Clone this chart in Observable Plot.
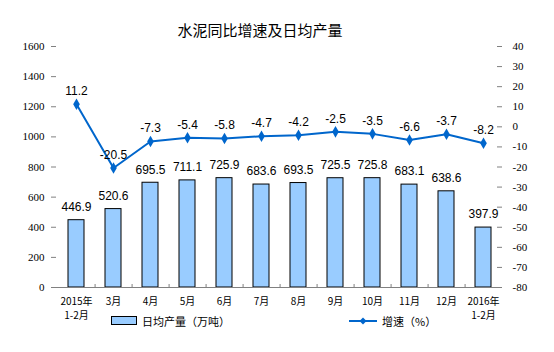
<!DOCTYPE html>
<html><head><meta charset="utf-8">
<script src="https://cdn.jsdelivr.net/npm/d3@7"></script>
<script src="https://cdn.jsdelivr.net/npm/@observablehq/plot@0.6"></script>
<style>
body{margin:0;background:#fff;}
#wrap{position:relative;width:554px;height:352px;overflow:hidden;}
#title{position:absolute;left:0;width:520px;top:20px;text-align:center;font-family:"Noto Sans CJK SC";font-size:15px;color:#000;line-height:20px;}
.leg{position:absolute;top:312px;height:18px;display:flex;align-items:center;font-family:"Noto Sans CJK SC";font-size:11px;color:#000;}
.leg svg{margin-right:4px;}
</style></head><body>
<div id="wrap"></div>
<script>
const categories = ["2015年\n1-2月","3月","4月","5月","6月","7月","8月","9月","10月","11月","12月","2016年\n1-2月"];
const output = [446.9, 520.6, 695.5, 711.1, 725.9, 683.6, 693.5, 725.5, 725.8, 683.1, 638.6, 397.9];
const growth = [11.2, -20.5, -7.3, -5.4, -5.8, -4.7, -4.2, -2.5, -3.5, -6.6, -3.7, -8.2];
const leftTicks = [0, 200, 400, 600, 800, 1000, 1200, 1400, 1600];
const rightTicks = [-80, -70, -60, -50, -40, -30, -20, -10, 0, 10, 20, 30, 40];
const title = "水泥同比增速及日均产量";
const barName = "日均产量（万吨）";
const lineName = "增速（%）";

const barColor = "#99CCFF", lineColor = "#0066CC", axisColor = "#808080";
const data = categories.map((c, i) => ({c, v: output[i], g: growth[i]}));
const rMin = -80, rMax = 40, lMax = 1600;
const toLeft = g => (g - rMin) / (rMax - rMin) * lMax;
const fromLeft = v => String(Math.round(v / lMax * (rMax - rMin) + rMin));

const W = 554, H = 352, mt = 46, mb = 65, ml = 56, mr = 52;
const pw = W - ml - mr, ph = H - mt - mb, step = pw / categories.length;

const chart = Plot.plot({
  width: W, height: H, marginTop: mt, marginBottom: mb, marginLeft: ml, marginRight: mr,
  style: {background: "transparent", color: "#000"},
  x: {domain: categories, paddingInner: 0.58, paddingOuter: 0.29, align: 0.5, label: null},
  y: {domain: [0, lMax], label: null},
  marks: [
    Plot.barY(data, {x: "c", y: "v", fill: barColor, stroke: "#000", strokeWidth: 1}),
    Plot.ruleY([0], {stroke: axisColor}),
    Plot.axisY(leftTicks, {anchor: "left", tickSize: 5, tickPadding: 7, tickFormat: d => String(d), stroke: axisColor, fill: "#000", fontFamily: "Liberation Serif", fontSize: 11, line: true, label: null}),
    Plot.axisY(rightTicks.map(toLeft), {anchor: "right", tickSize: 0, tickPadding: 10, tickFormat: fromLeft, stroke: axisColor, fill: "#000", fontFamily: "Liberation Serif", fontSize: 11, line: true, label: null}),
    Plot.tickY(rightTicks.map(toLeft), {y: d => d, insetLeft: pw - 5, stroke: axisColor}),
    Plot.tickX(categories.slice(0, -1), {x: d => d, dx: step / 2, insetTop: ph - 3, stroke: axisColor}),
    Plot.axisX({anchor: "bottom", tickSize: 0, tickPadding: 8, fontFamily: "Noto Sans CJK SC", fontSize: 10, lineHeight: 1.35, fill: "#000", label: null}),
    Plot.text(data, {x: "c", y: "v", text: d => d.v.toFixed(1), dy: -13, fontFamily: "Liberation Sans", fontSize: 12, fill: "#000"}),
    Plot.line(data, {x: "c", y: d => toLeft(d.g), stroke: lineColor, strokeWidth: 2}),
    Plot.dot(data, {x: "c", y: d => toLeft(d.g), symbol: "diamond", r: 3.5, fill: lineColor, stroke: "none"}),
    Plot.text(data, {x: "c", y: d => toLeft(d.g), text: d => d.g.toFixed(1), dy: -13, fontFamily: "Liberation Sans", fontSize: 12, fill: "#000"})
  ]
});

const wrap = document.getElementById("wrap");
wrap.appendChild(chart);
chart.style.position = "absolute"; chart.style.left = "0"; chart.style.top = "0";

const t = document.createElement("div"); t.id = "title"; t.textContent = title; wrap.appendChild(t);

const l1 = document.createElement("div"); l1.className = "leg"; l1.style.left = "111px";
l1.innerHTML = `<svg width="27" height="10"><rect x="0.5" y="0.5" width="25" height="8" fill="${barColor}" stroke="#000"/></svg><span></span>`;
l1.querySelector("span").textContent = barName; wrap.appendChild(l1);

const l2 = document.createElement("div"); l2.className = "leg"; l2.style.left = "349px";
l2.innerHTML = `<svg width="29" height="10"><line x1="0" x2="28" y1="5" y2="5" stroke="${lineColor}" stroke-width="2"/><path d="M14,1.5L17.5,5L14,8.5L10.5,5Z" fill="${lineColor}"/></svg><span></span>`;
l2.querySelector("span").textContent = lineName; wrap.appendChild(l2);
</script>
</body></html>
